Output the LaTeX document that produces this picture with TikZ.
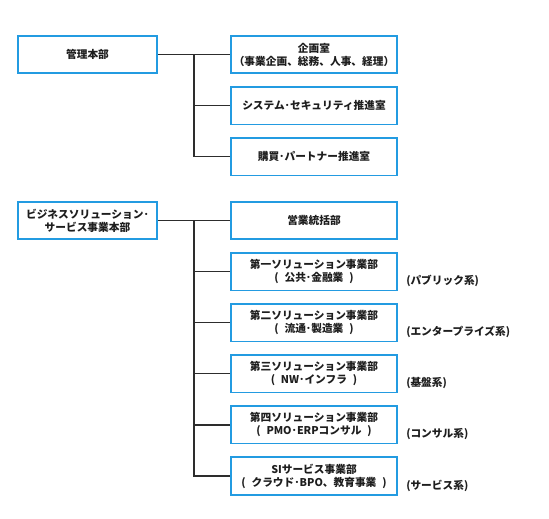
\documentclass[tikz,border=0pt]{standalone}
\usepackage{fontspec}
\setmainfont{Noto Sans CJK JP}
\usetikzlibrary{positioning}
\definecolor{boxblue}{RGB}{35,155,225}
\definecolor{txtgray}{RGB}{30,30,30}
\definecolor{linegray}{RGB}{45,45,45}
\newcommand{\pgap}{\hspace{0.55em}}

\begin{document}
\begin{tikzpicture}[x=1pt, y=-1pt, node distance=12pt,
        every node/.style={font=\bfseries\fontsize{10.7}{13}\selectfont, text=txtgray},
        box/.style={draw=boxblue, line width=1.6pt, minimum height=37.5pt, align=center, inner sep=2pt},
        hq/.style={box, minimum width=139.5pt},
        dept/.style={box, minimum width=166.5pt},
        tag/.style={anchor=base west, inner sep=0pt},
        link/.style={draw=linegray, line width=1.2pt}]
        \useasboundingbox (0,0) rectangle (549,519);
        % management
        \node[hq] (kanri) at (87.5,54.5) {管理本部};
        \node[dept] (kikaku) at (314,54.5) {企画室\\（事業企画、総務、人事、経理）};
        \node[dept] (sys) [below=of kikaku] {システム･セキュリティ推進室};
        \node[dept] (kobai) [below=of sys] {購買･パートナー推進室};
        \coordinate (j1) at (194,54.5);
        \draw[link] (kanri) -- (kikaku);
        \draw[link] (j1) |- (sys.west);
        \draw[link] (j1) |- (kobai.west);
        % business
        \node[hq] (biz) at (87.5,220.5) {ビジネスソリューション･\\サービス事業本部};
        \node[dept] (eigyo) at (314,220.5) {営業統括部};
        \node[dept] (sol1) [below=of eigyo] {第一ソリューション事業部\\(\pgap 公共･金融業\pgap )};
        \node[dept] (sol2) [below=of sol1] {第二ソリューション事業部\\(\pgap 流通･製造業\pgap )};
        \node[dept] (sol3) [below=of sol2] {第三ソリューション事業部\\(\pgap NW･インフラ\pgap )};
        \node[dept] (sol4) [below=of sol3] {第四ソリューション事業部\\(\pgap PMO･ERPコンサル\pgap )};
        \node[dept] (si) [below=of sol4] {SIサービス事業部\\(\pgap クラウド･BPO、教育事業\pgap )};
        \coordinate (j2) at (194,220.5);
        \draw[link] (biz) -- (eigyo);
        \foreach \d in {sol1,sol2,sol3,sol4,si}
            \draw[link] (j2) |- (\d.west);
        % sector tags
        \node[tag] (t1) at ([xshift=8pt,yshift=-13pt]sol1.east) {(パブリック系)};
        \node[tag] (t2) at ([xshift=8pt,yshift=-13pt]sol2.east) {(エンタープライズ系)};
        \node[tag] (t3) at ([xshift=8pt,yshift=-13pt]sol3.east) {(基盤系)};
        \node[tag] (t4) at ([xshift=8pt,yshift=-13pt]sol4.east) {(コンサル系)};
        \node[tag] (t5) at ([xshift=8pt,yshift=-13pt]si.east) {(サービス系)};
    \end{tikzpicture}
\end{document}
